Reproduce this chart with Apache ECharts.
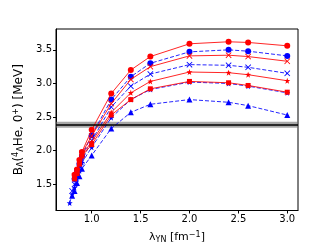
<!DOCTYPE html>
<html><head><meta charset="utf-8">
<script src="https://cdn.jsdelivr.net/npm/echarts@6/dist/echarts.min.js"></script>
<style>html,body{margin:0;padding:0;background:#fff}#c{width:332px;height:249px}</style>
</head><body><div id="c"></div>
<script>
const lambdaValues = [0.775,0.8,0.825,0.85,0.875,0.9,1.0,1.2,1.4,1.6,2.0,2.4,2.6,3.0];
const redCircle  = [null,null,1.64,1.72,1.86,1.98,2.31,2.85,3.20,3.40,3.59,3.62,3.61,3.56];
const blueCircle = [null,null,1.58,1.70,1.80,1.92,2.23,2.76,3.10,3.30,3.47,3.50,3.48,3.41];
const redCross   = [null,null,1.62,1.70,1.84,1.96,2.22,2.70,3.06,3.25,3.41,3.42,3.40,3.33];
const blueCross  = [null,1.40,1.50,1.62,1.74,1.85,2.15,2.65,2.96,3.14,3.28,3.27,3.24,3.15];
const redStar    = [null,null,1.60,1.68,1.82,1.94,2.13,2.57,2.86,3.03,3.17,3.16,3.13,3.04];
const redSquare  = [null,null,1.58,1.66,1.80,1.92,2.09,2.53,2.76,2.92,3.03,3.01,2.97,2.87];
const blueStar   = [1.22,1.35,1.45,1.58,1.70,1.82,2.05,2.49,2.76,2.91,3.02,3.00,2.96,2.86];
const blueTri    = [null,1.33,1.40,1.52,1.62,1.73,1.93,2.33,2.57,2.69,2.76,2.72,2.67,2.53];
const expValue = 2.38, expLow = 2.34, expHigh = 2.43;
const xTicks = [1.0,1.5,2.0,2.5,3.0];
const yTicks = [1.5,2.0,2.5,3.0,3.5];

const CROSS = 'path://M1,0 L5,4 L9,0 L10,1 L6,5 L10,9 L9,10 L5,6 L1,10 L0,9 L4,5 L0,1Z';
const STAR = 'path://M5,0 L6.2,3.6 L10,3.7 L7,6.1 L8.1,10 L5,7.7 L1.9,10 L3,6.1 L0,3.7 L3.8,3.6Z';
function pts(ys){const o=[];ys.forEach((y,i)=>{if(y!==null)o.push([lambdaValues[i],y]);});return o;}
function mk(ys,color,dashed,symbol,size){
  return {type:'line',data:pts(ys),symbol:symbol,symbolSize:size,z:dashed?3:4,
    lineStyle:{color:color,width:1,type:dashed?[4,2]:'solid',opacity:0.85},
    itemStyle:{color:color,opacity:1},animation:false};
}
const series=[
  {type:'line',data:[],markArea:{silent:true,itemStyle:{color:'rgba(110,110,110,0.6)'},data:[[{yAxis:expLow},{yAxis:expHigh}]]},
   markLine:{silent:true,symbol:'none',label:{show:false},lineStyle:{color:'#000',width:1.5,type:'solid'},data:[{yAxis:expValue}]}},
  mk(blueTri,'#0000ff',true,'triangle',6),
  mk(blueStar,'#0000ff',true,STAR,6),
  mk(blueCross,'#0000ff',true,CROSS,6),
  mk(blueCircle,'#0000ff',true,'circle',6),
  mk(redSquare,'#ff0000',false,'rect',5),
  mk(redStar,'#ff0000',false,STAR,6),
  mk(redCross,'#ff0000',false,CROSS,6),
  mk(redCircle,'#ff0000',false,'circle',6)
];
const chart=echarts.init(document.getElementById('c'),null,{renderer:'canvas'});
chart.setOption({
  animation:false,
  grid:{left:56,right:34,top:29,bottom:32,show:true,borderColor:'#000',borderWidth:1,backgroundColor:'#fff'},
  xAxis:{type:'value',min:0.635,max:3.11,
    name:'λ{s|YN} [fm{p|−1}]',nameLocation:'middle',nameGap:20,
    nameTextStyle:{fontFamily:'DejaVu Sans',fontSize:11,color:'#000',
      rich:{s:{fontSize:8,padding:[5,0,0,0],fontFamily:'DejaVu Sans'},p:{fontSize:8,padding:[0,0,6,0],fontFamily:'DejaVu Sans'}}},
    axisLine:{show:true,lineStyle:{color:'#000'}},
    axisTick:{show:true,customValues:xTicks,length:3,lineStyle:{color:'#000'}},
    axisLabel:{customValues:xTicks,formatter:v=>v.toFixed(1),fontFamily:'DejaVu Sans',fontSize:10,color:'#000',margin:4},
    splitLine:{show:false}},
  yAxis:{type:'value',min:1.11,max:3.81,
    name:'B{s|Λ}({p|4}{s|Λ}He, 0{p|+}) [MeV]',nameLocation:'middle',nameGap:24,
    nameTextStyle:{fontFamily:'DejaVu Sans',fontSize:12,color:'#000',
      rich:{s:{fontSize:8,padding:[5,0,0,0],fontFamily:'DejaVu Sans'},p:{fontSize:8,padding:[0,0,6,0],fontFamily:'DejaVu Sans'}}},
    axisLine:{show:true,lineStyle:{color:'#000'}},
    axisTick:{show:true,customValues:yTicks,length:3,lineStyle:{color:'#000'}},
    axisLabel:{customValues:yTicks,formatter:v=>v.toFixed(1),fontFamily:'DejaVu Sans',fontSize:10,color:'#000',margin:4},
    splitLine:{show:false}},
  series:series
});
</script></body></html>
